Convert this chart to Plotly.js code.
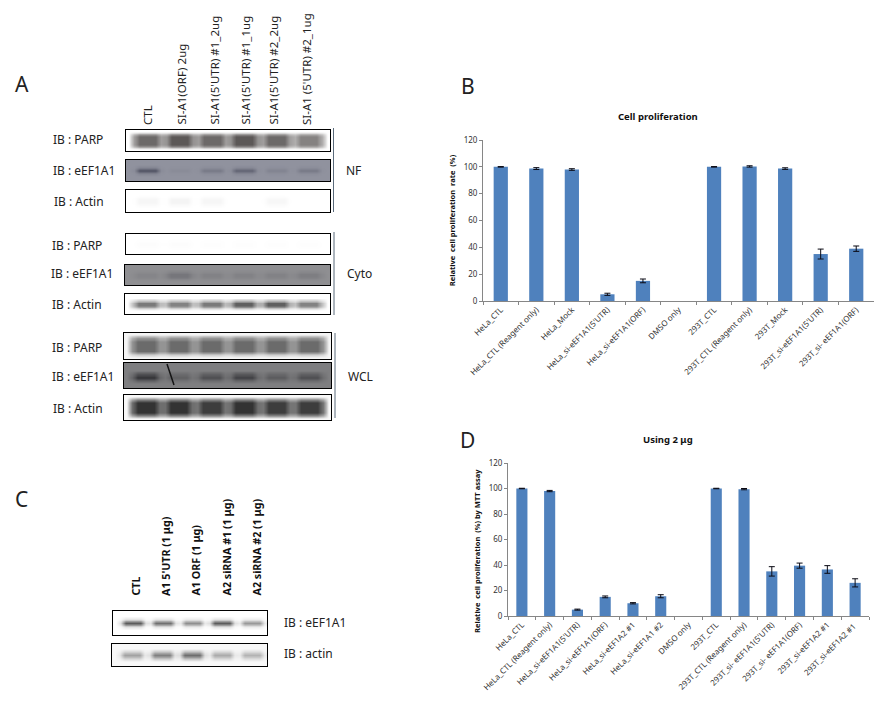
<!DOCTYPE html>
<html><head><meta charset="utf-8">
<script src="https://cdn.plot.ly/plotly-3.0.1.min.js"></script>
<style>html,body{margin:0;padding:0;background:#fff}#c{width:889px;height:703px}</style>
</head><body><div id="c"></div>
<script>
// Panel B
const bCategories = ["HeLa_CTL","HeLa_CTL (Reagent only)","HeLa_Mock","HeLa_si-eEF1A1(5'UTR)","HeLa_si-eEF1A1(ORF)","DMSO only","293T_CTL","293T_CTL (Reagent only)","293T_Mock","293T_si-eEF1A1(5'UTR)","293T_si- eEF1A1(ORF)"];
const bValues = [100,98.7,98,5,15,null,100,100.3,98.7,35,39];
const bErrors = [0.2,0.7,0.6,0.8,1.4,null,0.2,0.5,0.6,3.7,2];
// Panel D (the last label repeats in the original; a trailing space keeps the two bars apart)
const dCategories = ["HeLa_CTL","HeLa_CTL (Reagent only)","HeLa_si-eEF1A1(5'UTR)","HeLa_si-eEF1A1(ORF)","HeLa_si-eEF1A2 #1","HeLa_si-eEF1A1 #2","DMSO only","293T_CTL","293T_CTL (Reagent only)","293T_si- eEF1A1(5'UTR)","293T_si- eEF1A1(ORF)","293T_si-eEF1A2 #1","293T_si-eEF1A2 #1 "];
const dValues = [100,98,5,15,10,15.5,null,100,99.5,35,39.5,36.5,26];
const dErrors = [0.2,0.5,0.4,0.7,0.5,1.2,null,0.2,0.5,3.7,2,3,3.2];
// Blot band strengths per lane
const nfParp = [0.9,1,0.9,1,0.9,0.75];
const nfEef = [0.75,0.08,0.3,0.55,0.18,0.3];
const nfActin = [0.06,0.07,0.06,0,0.05,0];
const cytoParp = [0.015,0.015,0.01,0.01,0.01,0.01];
const cytoEef = [0.12,0.3,0.15,0.15,0.15,0.2];
const cytoActin = [0.75,0.7,0.75,0.9,0.9,0.7];
const wclParp = [0.9,0.9,0.9,0.9,0.9,0.9];
const wclEef = [0.85,0.35,0.55,0.7,0.4,0.55];
const wclActin = [1,1,0.95,1,0.95,0.95];
const cEef = [0.8,0.7,0.55,0.8,0.5];
const cActin = [0.5,0.7,0.8,0.45,0.4];
const aLanes = ["CTL","SI-A1(ORF) 2ug","SI-A1(5'UTR) #1_2ug","SI-A1(5'UTR) #1_1ug","SI-A1(5'UTR) #2_2ug","SI-A1 (5'UTR) #2_1ug"];
const cLanes = ["CTL","A1 5'UTR (1 μg)","A1 ORF (1 μg)","A2 siRNA #1 (1 μg)","A2 siRNA #2 (1 μg)"];

const W=889,H=703;
const fx=p=>p/W, fy=p=>1-p/H;
const FONT='"Noto Sans", sans-serif';
const traces=[];
const layout={width:W,height:H,margin:{l:0,r:0,t:0,b:0},paper_bgcolor:'#fff',plot_bgcolor:'#fff',showlegend:false,bargap:0.6,annotations:[],shapes:[],
  font:{family:FONT,color:'#222'}};

function chart(n,cats,vals,errs,box,yTitle,standoff,fs){
  const xa=n===1?'xaxis':'xaxis'+n, ya=n===1?'yaxis':'yaxis'+n;
  const xKey=n===1?'x':'x'+n, yKey=n===1?'y':'y'+n;
  traces.push({type:'bar',x:cats,y:vals,xaxis:xKey,yaxis:yKey,marker:{color:'#4f81bd'},
    error_y:{type:'data',array:errs,visible:true,color:'#0a0a14',thickness:1,width:3}});
  layout[xa]={domain:[fx(box[0]),fx(box[1])],type:'category',anchor:yKey,tickmode:'linear',tick0:0,dtick:1,tickson:'boundaries',
    tickangle:-45,ticks:'outside',ticklen:3,tickcolor:'#868686',linecolor:'#868686',showline:true,showgrid:false,zeroline:false,
    tickfont:{size:fs,family:FONT,color:'#333'},automargin:false};
  layout[ya]={domain:[fy(box[3]),fy(box[2])],anchor:xKey,range:[0,120],dtick:20,ticks:'outside',ticklen:3,tickcolor:'#868686',linecolor:'#868686',showline:true,showgrid:false,zeroline:false,
    tickfont:{size:fs,family:FONT,color:'#333'},automargin:false};
  if(yTitle) layout[ya].title={text:yTitle,standoff:standoff,font:{size:7.5,family:FONT,color:'#111',weight:700}};
}
chart(1,bCategories,bValues,bErrors,[483,874,140,301],'Relative  cell proliferation  rate  (%)',7,8);
chart(2,dCategories,dValues,dErrors,[508,869,463,616],null,6,8);

let ax=3;
function blot(vals,box,profile,bg,band,link,pads){
  const xk='x'+ax,yk='y'+ax;
  const padL=pads[0],padR=pads[1];
  const z=profile.map(p=>{
    const row=[];
    for(let i=0;i<padL;i++)row.push(0);
    vals.forEach(v=>{row.push(v*p*link,v*p,v*p,v*p,v*p,v*p*link)});
    for(let i=0;i<padR;i++)row.push(0);
    return row;
  });
  traces.push({type:'heatmap',z:z,xaxis:xk,yaxis:yk,zmin:0,zmax:1,zsmooth:'best',showscale:false,hoverinfo:'skip',colorscale:[[0,bg],[1,band]]});
  const common={showticklabels:false,ticks:'',showgrid:false,zeroline:false,showline:true,mirror:true,linecolor:'#000',linewidth:1.3,fixedrange:true};
  layout['xaxis'+ax]=Object.assign({},common,{domain:[fx(box[0]),fx(box[1])],anchor:yk});
  layout['yaxis'+ax]=Object.assign({},common,{domain:[fy(box[3]),fy(box[2])],anchor:xk});
  ax++;
}
const tall=[0,0.6,1,1,1,1,0.6,0];
const mid=[0,0,0.4,1,1,0.4,0,0];
const thin=[0,0,0.2,1,0.2,0,0];
const PAD=[1,1], CPAD=[1,0];
blot(nfParp,[126,330,130,151],tall,'#ffffff','#5c5857',0.65,PAD);
blot(nfEef,[126,330,160,181],thin,'#90929e','#3a3c4e',0.1,PAD);
blot(nfActin,[126,330,190,212],mid,'#ffffff','#666666',0.1,PAD);
blot(cytoParp,[126,330,234,254],mid,'#ffffff','#555555',0.2,PAD);
blot(cytoEef,[125,330,265,285],mid,'#8f8f92','#3a3a44',0.4,PAD);
blot(cytoActin,[125,330,294,314],mid,'#ffffff','#4e4e4e',0.5,PAD);
blot(wclParp,[124,331,333,359],[0,0.3,1,1,1,1,0.7,0],'#f4f4f4','#5c5c5c',0.7,PAD);
blot(wclEef,[124,331,363,388],[0,0,0.4,1,0.6,0,0,0],'#7e7e80','#242428',0.35,PAD);
blot(wclActin,[124,331,395,420],tall,'#f8f8f8','#333333',0.7,PAD);
blot(cEef,[113,267,611,635],thin,'#ffffff','#333333',0.2,CPAD);
blot(cActin,[112,267,644,666],[0,0,0.4,1,0.4,0,0],'#f8f8f8','#4c4c4c',0.2,CPAD);

function text(t,x,y,size,opt){
  layout.annotations.push(Object.assign({text:t,xref:'paper',yref:'paper',x:fx(x),y:fy(y),showarrow:false,xanchor:'left',yanchor:'middle',
    font:{size:size,family:FONT,color:'#222'}},opt||{}));
}
text('A',13,84,21);text('B',459,86,21);text('C',13,499,21);text('D',458,440,21);
text('Cell proliferation',658,116,9.5,{xanchor:'center',font:{size:9.5,family:FONT,color:'#111',weight:700}});
text('Using 2 μg',668,439,9.5,{xanchor:'center',font:{size:9.5,family:FONT,color:'#111',weight:700}});
text('<b>Relative  cell proliferation  (%) by MTT assay</b>',477,551,7.5,{textangle:-90,xanchor:'center',font:{size:7.5,family:FONT,color:'#111'}});

const aX=[147,181,214,245,273,306];
aLanes.forEach((l,i)=>text(l,aX[i],127,11.5,{textangle:-90,xanchor:'center',yanchor:'bottom'}));
const cX=[135,166,195,226,256];
cLanes.forEach((l,i)=>text('<b>'+l+'</b>',cX[i],598,10.7,{textangle:-90,xanchor:'center',yanchor:'bottom',font:{size:10.7,family:FONT,color:'#111'}}));

[['IB : PARP',51,140],['IB : eEF1A1',51,170],['IB : Actin',52,202],
 ['IB : PARP',50,245],['IB : eEF1A1',49,273],['IB : Actin',50,304],
 ['IB : PARP',50,347],['IB : eEF1A1',50,377],['IB : Actin',51,408],
 ['NF',344,170],['Cyto',345,274],['WCL',346,376],
 ['IB : eEF1A1',282,622],['IB : actin',282,653]].forEach(r=>text(r[0],r[1],r[2],12));

[[333.5,128,212],[334,232,315],[335,333,418]].forEach(v=>layout.shapes.push({type:'line',xref:'paper',yref:'paper',x0:fx(v[0]),x1:fx(v[0]),y0:fy(v[1]),y1:fy(v[2]),line:{color:'#5a6a7a',width:1}}));
layout.shapes.push({type:'line',xref:'paper',yref:'paper',x0:fx(167),x1:fx(174),y0:fy(364),y1:fy(385),line:{color:'#151515',width:1.5}});

Plotly.newPlot('c',traces,layout,{displayModeBar:false,staticPlot:true});
</script></body></html>
